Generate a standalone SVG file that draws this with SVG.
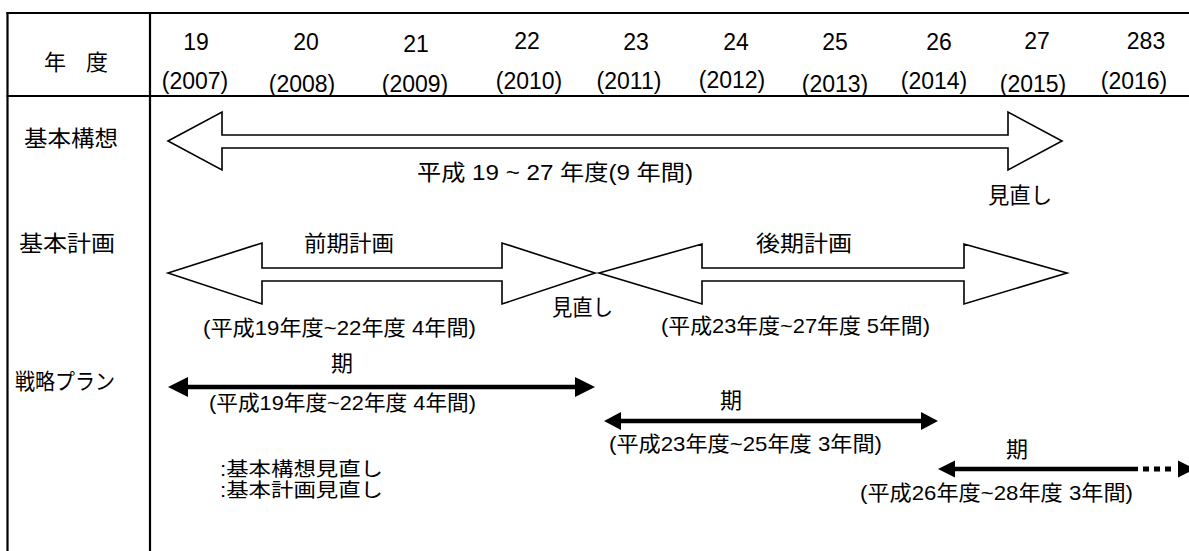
<svg xmlns="http://www.w3.org/2000/svg" width="1189" height="551" viewBox="0 0 1189 551">
<style>
text{font-family:"Liberation Sans","Noto Sans CJK JP",sans-serif;fill:#000}
.n{font-size:23px;text-anchor:middle}
.j{font-size:22px}
.p{font-size:21px}
.l{font-size:19.5px}
.frame{stroke:#000;stroke-width:2.2;fill:none}
.hollow{fill:#fff;stroke:#000;stroke-width:1.6;stroke-linejoin:miter}
.bold{stroke:#000;stroke-width:4.5;fill:none}
.head{fill:#000;stroke:none}
</style>
<rect width="1189" height="551" fill="#fff"/>
<g id="frame">
<line class="frame" x1="6.5" y1="13" x2="1189" y2="13"/>
<line class="frame" x1="6.5" y1="96" x2="1189" y2="96"/>
<line class="frame" x1="7.5" y1="12" x2="7.5" y2="551"/>
<line class="frame" x1="150" y1="12" x2="150" y2="551"/>
</g>
<g id="header">
<text class="j" x="44" y="70" textLength="64" lengthAdjust="spacing">年 度</text>
<text class="n" x="196" y="50">19</text>
<text class="n" x="306" y="50">20</text>
<text class="n" x="416" y="52">21</text>
<text class="n" x="527" y="49">22</text>
<text class="n" x="636" y="50">23</text>
<text class="n" x="736" y="50">24</text>
<text class="n" x="835" y="50">25</text>
<text class="n" x="939" y="50">26</text>
<text class="n" x="1037" y="49">27</text>
<text class="n" x="1146" y="49">283</text>
<text class="n" x="195" y="89">(2007)</text>
<text class="n" x="302" y="92">(2008)</text>
<text class="n" x="415" y="92">(2009)</text>
<text class="n" x="529" y="89">(2010)</text>
<text class="n" x="629" y="89">(2011)</text>
<text class="n" x="732" y="88">(2012)</text>
<text class="n" x="835" y="92">(2013)</text>
<text class="n" x="934" y="89">(2014)</text>
<text class="n" x="1033" y="92">(2015)</text>
<text class="n" x="1134" y="89">(2016)</text>
</g>
<g id="row-labels">
<text class="j" x="24" y="146" textLength="94" lengthAdjust="spacingAndGlyphs">基本構想</text>
<text class="j" x="19" y="251" textLength="96" lengthAdjust="spacingAndGlyphs">基本計画</text>
<text class="j" x="15" y="389" textLength="100" lengthAdjust="spacingAndGlyphs">戦略プラン</text>
</g>
<g id="connectors">
<polygon id="arrow-kihonkoso" class="hollow" points="168,141 222,112 222,135 1008,135 1008,112 1062,141 1008,170 1008,148 222,148 222,170"/>
<polygon id="arrow-zenki" class="hollow" points="168,273 262,243 262,268 502,268 502,243 595,273 502,304 502,281 262,281 262,304"/>
<polygon id="arrow-koki" class="hollow" points="599,273 702,244 702,268 964,268 964,244 1067,273 964,304 964,281 702,281 702,304"/>
<g id="arrow-plan1">
<line class="bold" x1="185" y1="387" x2="578" y2="387"/>
<polygon class="head" points="168,387 188,377 188,397"/>
<polygon class="head" points="595,387 575,377 575,397"/>
</g>
<g id="arrow-plan2">
<line class="bold" x1="618" y1="421" x2="924" y2="421"/>
<polygon class="head" points="604,421 621,412 621,430"/>
<polygon class="head" points="938,421 921,412 921,430"/>
</g>
<g id="arrow-plan3">
<line class="bold" x1="952" y1="469" x2="1138" y2="469"/>
<line stroke="#000" stroke-width="5" stroke-dasharray="6,5" x1="1143" y1="469" x2="1174" y2="469"/>
<polygon class="head" points="938,469 955,460.5 955,477.5"/>
<polygon class="head" points="1195,469 1178,460.5 1178,477.5"/>
</g>
</g>
<g id="label-kihonkoso">
<text class="j" x="417" y="180" textLength="276" lengthAdjust="spacingAndGlyphs">平成 19 ~ 27 年度(9 年間)</text>
<text class="j" x="988" y="203" textLength="64" lengthAdjust="spacingAndGlyphs">見直し</text>
</g>
<g id="label-kihonkeikaku">
<text class="j" x="304" y="251" textLength="90" lengthAdjust="spacingAndGlyphs">前期計画</text>
<text class="j" x="756" y="251" textLength="96" lengthAdjust="spacingAndGlyphs">後期計画</text>
<text class="j" x="552" y="315" textLength="61" lengthAdjust="spacingAndGlyphs">見直し</text>
<text class="p" x="203" y="335" textLength="273" lengthAdjust="spacingAndGlyphs">(平成19年度~22年度 4年間)</text>
<text class="p" x="661" y="333" textLength="269" lengthAdjust="spacingAndGlyphs">(平成23年度~27年度 5年間)</text>
</g>
<g id="label-plan">
<text class="j" x="331" y="371">期</text>
<text class="p" x="209" y="410" textLength="267" lengthAdjust="spacingAndGlyphs">(平成19年度~22年度 4年間)</text>
<text class="j" x="720" y="408">期</text>
<text class="p" x="609" y="451" textLength="273" lengthAdjust="spacingAndGlyphs">(平成23年度~25年度 3年間)</text>
<text class="j" x="1006" y="457">期</text>
<text class="p" x="860" y="500" textLength="273" lengthAdjust="spacingAndGlyphs">(平成26年度~28年度 3年間)</text>
</g>
<g id="legend">
<text class="l" x="220" y="476" textLength="163" lengthAdjust="spacingAndGlyphs">:基本構想見直し</text>
<text class="l" x="220" y="497" textLength="163" lengthAdjust="spacingAndGlyphs">:基本計画見直し</text>
</g>
</svg>
